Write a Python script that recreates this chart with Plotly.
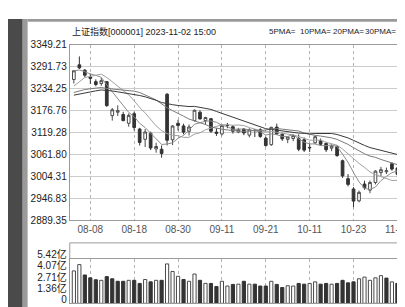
import plotly.graph_objects as go

# ---------------- data ----------------
dates = ["08-03", "08-04", "08-07", "08-08", "08-09", "08-10", "08-11", "08-14", "08-15", "08-16",
         "08-17", "08-18", "08-21", "08-22", "08-23", "08-24", "08-25", "08-28", "08-29", "08-30",
         "08-31", "09-01", "09-04", "09-05", "09-06", "09-07", "09-08", "09-11", "09-12", "09-13",
         "09-14", "09-15", "09-18", "09-19", "09-20", "09-21", "09-22", "09-25", "09-26", "09-27",
         "09-28", "10-09", "10-10", "10-11", "10-12", "10-13", "10-16", "10-17", "10-18", "10-19",
         "10-20", "10-23", "10-24", "10-25", "10-26", "10-27", "10-30", "10-31", "11-01", "11-02"]

opens = [3257.5, 3296.0, 3282.0, 3264.0, 3252.0, 3247.0, 3252.0, 3163.0, 3172.0, 3166.0,
         3143.0, 3168.0, 3128.0, 3101.0, 3117.0, 3076.0, 3075.0, 3219.0, 3100.0, 3143.0,
         3136.0, 3122.0, 3150.0, 3172.0, 3150.0, 3155.0, 3120.0, 3115.0, 3138.0, 3134.0,
         3120.0, 3128.0, 3112.0, 3125.0, 3126.0, 3104.0, 3087.0, 3133.0, 3114.0, 3101.0,
         3103.0, 3103.0, 3100.0, 3080.0, 3092.0, 3097.0, 3090.0, 3078.0, 3082.0, 3045.0,
         2998.0, 2971.0, 2940.0, 2984.0, 2968.0, 2988.0, 3014.0, 3016.0, 3037.0, 3026.0]
highs = [3282.0, 3318.0, 3285.0, 3273.0, 3258.0, 3262.0, 3253.0, 3183.0, 3190.0, 3173.0,
         3169.0, 3173.0, 3131.0, 3128.0, 3121.0, 3092.0, 3085.0, 3222.0, 3138.0, 3152.0,
         3142.0, 3140.0, 3179.0, 3177.0, 3160.0, 3157.0, 3130.0, 3140.0, 3144.0, 3138.0,
         3131.0, 3130.0, 3130.0, 3128.0, 3130.0, 3108.0, 3134.0, 3142.0, 3118.0, 3108.0,
         3114.0, 3114.0, 3106.0, 3090.0, 3110.0, 3103.0, 3093.0, 3088.0, 3086.0, 3048.0,
         3010.0, 2976.0, 2967.0, 2993.0, 2993.0, 3020.0, 3029.0, 3027.0, 3041.0, 3030.0]
lows = [3247.0, 3285.0, 3263.0, 3246.0, 3240.0, 3241.0, 3186.0, 3150.0, 3162.0, 3148.0,
        3134.0, 3124.0, 3085.0, 3081.0, 3073.0, 3066.0, 3053.0, 3085.0, 3086.0, 3124.0,
        3114.0, 3111.0, 3148.0, 3153.0, 3139.0, 3118.0, 3110.0, 3111.0, 3130.0, 3116.0,
        3117.0, 3112.0, 3106.0, 3107.0, 3105.0, 3082.0, 3084.0, 3113.0, 3097.0, 3091.0,
        3096.0, 3070.0, 3068.0, 3068.0, 3088.0, 3084.0, 3068.0, 3070.0, 3055.0, 3000.0,
        2978.0, 2923.5, 2936.0, 2969.0, 2960.0, 2983.0, 3005.0, 3010.0, 3019.0, 3001.0]
closes = [3280.46, 3288.08, 3268.83, 3260.62, 3244.49, 3254.56, 3189.25, 3178.43, 3176.18, 3150.13,
          3163.74, 3131.95, 3092.98, 3120.33, 3078.40, 3082.24, 3064.07, 3098.64, 3135.89, 3137.14,
          3119.88, 3133.25, 3177.06, 3154.37, 3158.08, 3122.35, 3116.72, 3137.06, 3137.24, 3122.36,
          3126.55, 3117.74, 3125.93, 3124.36, 3108.57, 3084.70, 3132.43, 3115.61, 3102.27, 3107.32,
          3110.48, 3075.24, 3072.83, 3078.96, 3107.90, 3088.10, 3073.81, 3083.50, 3058.71, 3005.39,
          2983.06, 2939.29, 2962.24, 2974.11, 2988.30, 3017.78, 3021.55, 3018.77, 3023.08, 3009.41]
prev_close = 3261.69

ma5 = [3280.01, 3282.44, 3278.00, 3271.94, 3268.50, 3263.32, 3243.55, 3225.47, 3208.58, 3189.71,
       3171.55, 3160.09, 3143.00, 3131.83, 3117.48, 3101.18, 3087.60, 3088.74, 3091.85, 3103.60,
       3111.12, 3124.96, 3140.64, 3144.34, 3148.53, 3149.02, 3145.72, 3137.72, 3134.29, 3127.15,
       3127.99, 3128.19, 3125.96, 3123.39, 3120.63, 3112.26, 3115.20, 3113.13, 3108.72, 3108.47,
       3113.62, 3102.18, 3093.63, 3088.97, 3089.08, 3084.61, 3084.32, 3086.45, 3082.40, 3061.90,
       3040.89, 3013.99, 2989.74, 2972.82, 2969.40, 2976.34, 2992.80, 3004.10, 3013.90, 3018.12]
ma10 = [3240.33, 3252.36, 3262.83, 3265.74, 3267.88, 3271.67, 3263.00, 3251.74, 3240.26, 3229.10,
        3217.43, 3201.82, 3184.23, 3170.20, 3153.60, 3136.36, 3123.85, 3115.87, 3111.84, 3110.54,
        3106.15, 3106.28, 3114.69, 3118.09, 3126.06, 3130.07, 3135.34, 3139.18, 3139.32, 3137.84,
        3138.50, 3136.95, 3131.84, 3128.84, 3123.89, 3120.12, 3121.69, 3119.55, 3116.05, 3114.55,
        3112.94, 3108.69, 3103.38, 3098.84, 3098.77, 3099.11, 3093.25, 3090.04, 3085.69, 3075.49,
        3062.75, 3049.16, 3038.10, 3027.61, 3015.65, 3008.62, 3003.39, 2996.92, 2993.36, 2993.76]
ma20 = [3223.56, 3228.13, 3231.39, 3233.35, 3235.77, 3236.67, 3234.25, 3232.69, 3231.61, 3229.17,
        3228.88, 3227.09, 3223.53, 3217.97, 3210.74, 3204.01, 3193.42, 3183.80, 3176.05, 3169.82,
        3161.79, 3154.05, 3149.46, 3144.15, 3139.83, 3133.22, 3129.59, 3127.52, 3125.58, 3124.19,
        3122.33, 3121.62, 3123.27, 3123.47, 3124.98, 3125.10, 3128.52, 3129.36, 3127.68, 3126.19,
        3125.72, 3122.82, 3117.61, 3113.84, 3111.33, 3109.62, 3107.47, 3104.80, 3100.87, 3095.02,
        3087.85, 3078.92, 3070.74, 3063.23, 3057.21, 3053.87, 3048.32, 3043.48, 3039.52, 3034.63]
ma30 = [3216.68, 3219.69, 3223.63, 3226.01, 3227.84, 3230.25, 3229.82, 3227.63, 3225.33, 3222.90,
        3221.51, 3219.36, 3215.67, 3212.30, 3208.38, 3203.23, 3197.45, 3193.75, 3191.68, 3189.63,
        3187.97, 3186.82, 3187.25, 3184.68, 3182.51, 3179.37, 3174.06, 3168.93, 3163.80, 3159.16,
        3154.03, 3148.35, 3143.59, 3139.05, 3134.52, 3128.85, 3126.96, 3124.87, 3122.40, 3120.97,
        3119.20, 3117.31, 3116.64, 3115.26, 3116.24, 3116.44, 3116.76, 3116.26, 3113.68, 3109.29,
        3104.73, 3098.27, 3091.11, 3085.10, 3079.44, 3075.95, 3072.78, 3068.84, 3065.03, 3061.27]

volumes = [3.96, 4.73, 3.46, 3.11, 2.88, 2.81, 3.26, 3.00, 2.69, 2.69,
           2.81, 2.81, 2.43, 2.91, 2.62, 2.81, 2.81, 4.81, 3.89, 3.30,
           2.91, 2.69, 3.58, 2.81, 2.43, 2.43, 2.05, 2.69, 2.11, 2.31,
           2.34, 2.69, 2.34, 2.34, 2.11, 2.11, 2.69, 2.31, 1.93, 2.15,
           2.11, 2.43, 2.34, 2.43, 2.62, 2.34, 2.43, 2.34, 2.43, 2.81,
           2.50, 2.62, 3.00, 3.20, 2.81, 3.11, 3.38, 3.08, 2.62, 2.43]

price_ticks = [2889.35, 2946.83, 3004.31, 3061.80, 3119.28, 3176.76, 3234.25, 3291.73, 3349.21]
vol_ticks = [0, 1.36, 2.71, 4.07, 5.42]
vol_tick_text = ["0", "1.36亿", "2.71亿", "4.07亿", "5.42亿"]
date_ticks = ["08-08", "08-18", "08-30", "09-11", "09-21", "10-11", "10-23", "11-02"]

title_text = "上证指数[000001] 2023-11-02 15:00"
ma_names = ["5PMA=", "10PMA=", "20PMA=", "30PMA="]

# ---------------- layout helpers ----------------
W, H = 405, 307
def fx(px):
    return px / W
def fy(py):
    return 1 - py / H

X0, X1 = 63, 402
MAIN_T, MAIN_B = 27, 213
VOL_T, VOL_B = 254, 301
VOL_FRAME_T = 237

UP_LINE = "#4a4a4a"
DOWN = "#333333"
FONT = "Liberation Sans, Arial, Noto Sans CJK SC"

fig = go.Figure()

ma_styles = [(ma5, "#8c8c8c"), (ma10, "#a0a0a0"), (ma20, "#7a7a7a"), (ma30, "#3a3a3a")]
for series, col in ma_styles:
    fig.add_trace(go.Scatter(x=dates, y=series, mode="lines", line=dict(color=col, width=1),
                             xaxis="x", yaxis="y", showlegend=False, hoverinfo="skip"))

fig.add_trace(go.Candlestick(
    x=dates, open=opens, high=highs, low=lows, close=closes,
    xaxis="x", yaxis="y",
    increasing=dict(line=dict(color=UP_LINE, width=1), fillcolor="#ffffff"),
    decreasing=dict(line=dict(color=DOWN, width=1), fillcolor=DOWN),
    whiskerwidth=0, showlegend=False, hoverinfo="skip"))

vol_up = []
last = prev_close
for c in closes:
    vol_up.append(c >= last)
    last = c
fig.add_trace(go.Bar(
    x=dates, y=volumes, xaxis="x2", yaxis="y2", width=0.58,
    marker=dict(color=["#ffffff" if u else DOWN for u in vol_up],
                line=dict(color=[UP_LINE if u else DOWN for u in vol_up], width=1)),
    showlegend=False, hoverinfo="skip"))

xr = [-0.75, 59.85]
common_x = dict(type="category", range=xr, tickvals=date_ticks, showgrid=True,
                gridcolor="#b4b4b4", griddash="3px,3px", gridwidth=1, showline=True,
                mirror=True, linecolor="#9a9a9a", linewidth=1, ticks="", zeroline=False,
                domain=[fx(X0), fx(X1)], fixedrange=True)

fig.update_layout(
    width=W, height=H, margin=dict(l=0, r=0, t=0, b=0),
    paper_bgcolor="#ffffff", plot_bgcolor="#ffffff",
    showlegend=False, hovermode=False,
    xaxis=dict(**common_x, anchor="y", rangeslider=dict(visible=False),
               tickfont=dict(family=FONT, size=10, color="#555555")),
    yaxis=dict(domain=[fy(MAIN_B), fy(MAIN_T)], range=[price_ticks[0], price_ticks[-1]],
               tickvals=price_ticks, tickformat=".2f", showgrid=True, gridcolor="#cccccc",
               gridwidth=1, showline=True, mirror=True, linecolor="#9a9a9a", ticks="",
               zeroline=False, anchor="x", fixedrange=True,
               tickfont=dict(family=FONT, size=10, color="#222222")),
    xaxis2=dict(**common_x, anchor="y2", showticklabels=False),
    yaxis2=dict(domain=[fy(VOL_B), fy(VOL_T)], range=[0, 5.42], tickvals=vol_ticks,
                ticktext=vol_tick_text, showgrid=False, showline=True, mirror=True,
                linecolor="#9a9a9a", ticks="", zeroline=False, anchor="x2", fixedrange=True,
                ticklabelshift=-4,
                tickfont=dict(family=FONT, size=10, color="#222222")),
)

shapes = [
    dict(type="rect", xref="paper", yref="paper", x0=0, x1=fx(15), y0=0, y1=1,
         fillcolor="#4a4a4a", line=dict(width=0), layer="above"),
    dict(type="rect", xref="paper", yref="paper", x0=fx(15), x1=fx(20), y0=0, y1=1,
         fillcolor="#9a9a9a", line=dict(width=0), layer="above"),
    dict(type="rect", xref="paper", yref="paper", x0=fx(20), x1=1, y0=fy(3), y1=1,
         fillcolor="#9a9a9a", line=dict(width=0), layer="above"),
    dict(type="line", xref="paper", yref="paper", x0=fx(X0), x1=fx(X1), y0=fy(VOL_FRAME_T),
         y1=fy(VOL_FRAME_T), line=dict(color="#9a9a9a", width=1)),
    dict(type="line", xref="paper", yref="paper", x0=fx(X0), x1=fx(X0), y0=fy(VOL_FRAME_T),
         y1=fy(VOL_T), line=dict(color="#9a9a9a", width=1)),
    dict(type="line", xref="paper", yref="paper", x0=fx(X1), x1=fx(X1), y0=fy(VOL_FRAME_T),
         y1=fy(VOL_T), line=dict(color="#9a9a9a", width=1)),
]
fig.update_layout(shapes=shapes)

fig.add_annotation(text=title_text, xref="paper", yref="paper", x=fx(63), y=fy(13),
                   xanchor="left", yanchor="middle", showarrow=False,
                   font=dict(family=FONT, size=9, color="#222222"))
legend_x = [264, 296, 329, 362]
for name, lx in zip(ma_names, legend_x):
    fig.add_annotation(text=name, xref="paper", yref="paper", x=fx(lx), y=fy(13),
                       xanchor="left", yanchor="middle", showarrow=False,
                       font=dict(family=FONT, size=8, color="#222222"))

fig.write_html("out.html")
